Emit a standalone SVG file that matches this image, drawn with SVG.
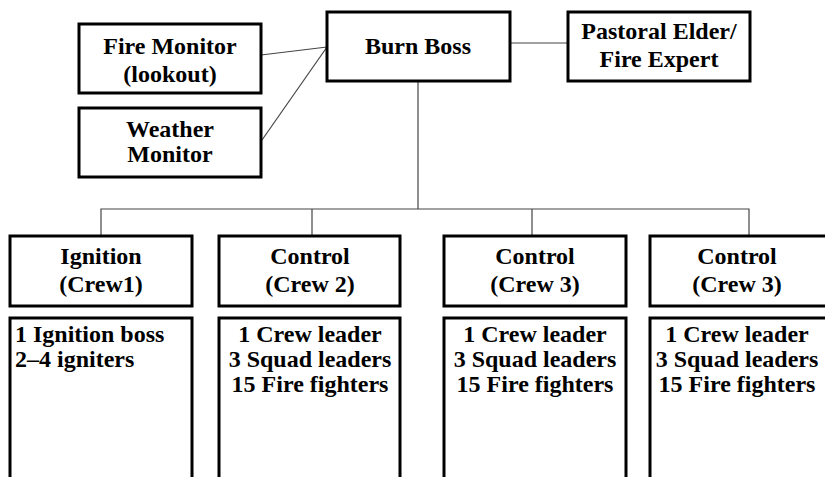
<svg xmlns="http://www.w3.org/2000/svg" width="825" height="477" viewBox="0 0 825 477">
  <rect x="0" y="0" width="825" height="477" fill="#fff"/>

  <!-- thin grey connectors between the boxes -->
  <g id="connectors" fill="none" stroke="#444" stroke-width="1.2">
    <line x1="261" y1="55" x2="327" y2="47"/>
    <line x1="262" y1="140" x2="327" y2="47"/>
    <line x1="510" y1="43" x2="568" y2="43"/>
    <line x1="418" y1="81" x2="418" y2="209"/>
    <polyline points="101,236 101,209 749,209 749,236"/>
    <line x1="312" y1="209" x2="312" y2="236"/>
    <line x1="532" y1="209" x2="532" y2="236"/>
  </g>

  <!-- boxes: white fill, heavy black outline; bold serif labels -->
  <g id="nodes" font-weight="bold" font-size="24">
    <g id="fire-monitor">
      <rect x="79" y="24" width="182" height="69" fill="#fff" stroke="#000" stroke-width="3"/>
      <text x="170" y="54" text-anchor="middle" style="font-family:'Liberation Serif',serif">Fire Monitor</text>
      <text x="170" y="82" text-anchor="middle" style="font-family:'Liberation Serif',serif">(lookout)</text>
    </g>

    <g id="weather-monitor">
      <rect x="79" y="108" width="182" height="69" fill="#fff" stroke="#000" stroke-width="3"/>
      <text x="170" y="137" text-anchor="middle" style="font-family:'Liberation Serif',serif">Weather</text>
      <text x="170" y="162" text-anchor="middle" style="font-family:'Liberation Serif',serif">Monitor</text>
    </g>

    <g id="burn-boss">
      <rect x="327" y="12" width="183" height="69" fill="#fff" stroke="#000" stroke-width="3"/>
      <text x="418" y="54" text-anchor="middle" style="font-family:'Liberation Serif',serif">Burn Boss</text>
    </g>

    <g id="pastoral-elder">
      <rect x="568" y="12" width="182" height="69" fill="#fff" stroke="#000" stroke-width="3"/>
      <text x="659" y="39" text-anchor="middle" style="font-family:'Liberation Serif',serif">Pastoral Elder/</text>
      <text x="659" y="67" text-anchor="middle" style="font-family:'Liberation Serif',serif">Fire Expert</text>
    </g>

    <g id="crew-1">
      <rect x="10" y="236" width="182" height="70" fill="#fff" stroke="#000" stroke-width="3"/>
      <text x="101" y="264" text-anchor="middle" style="font-family:'Liberation Serif',serif">Ignition</text>
      <text x="101" y="292" text-anchor="middle" style="font-family:'Liberation Serif',serif">(Crew1)</text>
      <rect x="10" y="318" width="182" height="180" fill="#fff" stroke="#000" stroke-width="3"/>
      <text x="15" y="342" style="font-family:'Liberation Serif',serif">1 Ignition boss</text>
      <text x="15" y="367" style="font-family:'Liberation Serif',serif">2–4 igniters</text>
    </g>

    <g id="crew-2">
      <rect x="219" y="236" width="181" height="70" fill="#fff" stroke="#000" stroke-width="3"/>
      <text x="310" y="264" text-anchor="middle" style="font-family:'Liberation Serif',serif">Control</text>
      <text x="310" y="292" text-anchor="middle" style="font-family:'Liberation Serif',serif">(Crew 2)</text>
      <rect x="219" y="318" width="181" height="180" fill="#fff" stroke="#000" stroke-width="3"/>
      <text x="310" y="342" text-anchor="middle" style="font-family:'Liberation Serif',serif">1 Crew leader</text>
      <text x="310" y="367" text-anchor="middle" style="font-family:'Liberation Serif',serif">3 Squad leaders</text>
      <text x="310" y="392" text-anchor="middle" style="font-family:'Liberation Serif',serif">15 Fire fighters</text>
    </g>

    <g id="crew-3a">
      <rect x="444" y="236" width="182" height="70" fill="#fff" stroke="#000" stroke-width="3"/>
      <text x="535" y="264" text-anchor="middle" style="font-family:'Liberation Serif',serif">Control</text>
      <text x="535" y="292" text-anchor="middle" style="font-family:'Liberation Serif',serif">(Crew 3)</text>
      <rect x="444" y="318" width="182" height="180" fill="#fff" stroke="#000" stroke-width="3"/>
      <text x="535" y="342" text-anchor="middle" style="font-family:'Liberation Serif',serif">1 Crew leader</text>
      <text x="535" y="367" text-anchor="middle" style="font-family:'Liberation Serif',serif">3 Squad leaders</text>
      <text x="535" y="392" text-anchor="middle" style="font-family:'Liberation Serif',serif">15 Fire fighters</text>
    </g>

    <g id="crew-3b">
      <rect x="650" y="236" width="190" height="70" fill="#fff" stroke="#000" stroke-width="3"/>
      <text x="737" y="264" text-anchor="middle" style="font-family:'Liberation Serif',serif">Control</text>
      <text x="737" y="292" text-anchor="middle" style="font-family:'Liberation Serif',serif">(Crew 3)</text>
      <rect x="650" y="318" width="190" height="180" fill="#fff" stroke="#000" stroke-width="3"/>
      <text x="737" y="342" text-anchor="middle" style="font-family:'Liberation Serif',serif">1 Crew leader</text>
      <text x="737" y="367" text-anchor="middle" style="font-family:'Liberation Serif',serif">3 Squad leaders</text>
      <text x="737" y="392" text-anchor="middle" style="font-family:'Liberation Serif',serif">15 Fire fighters</text>
    </g>
  </g>
</svg>
